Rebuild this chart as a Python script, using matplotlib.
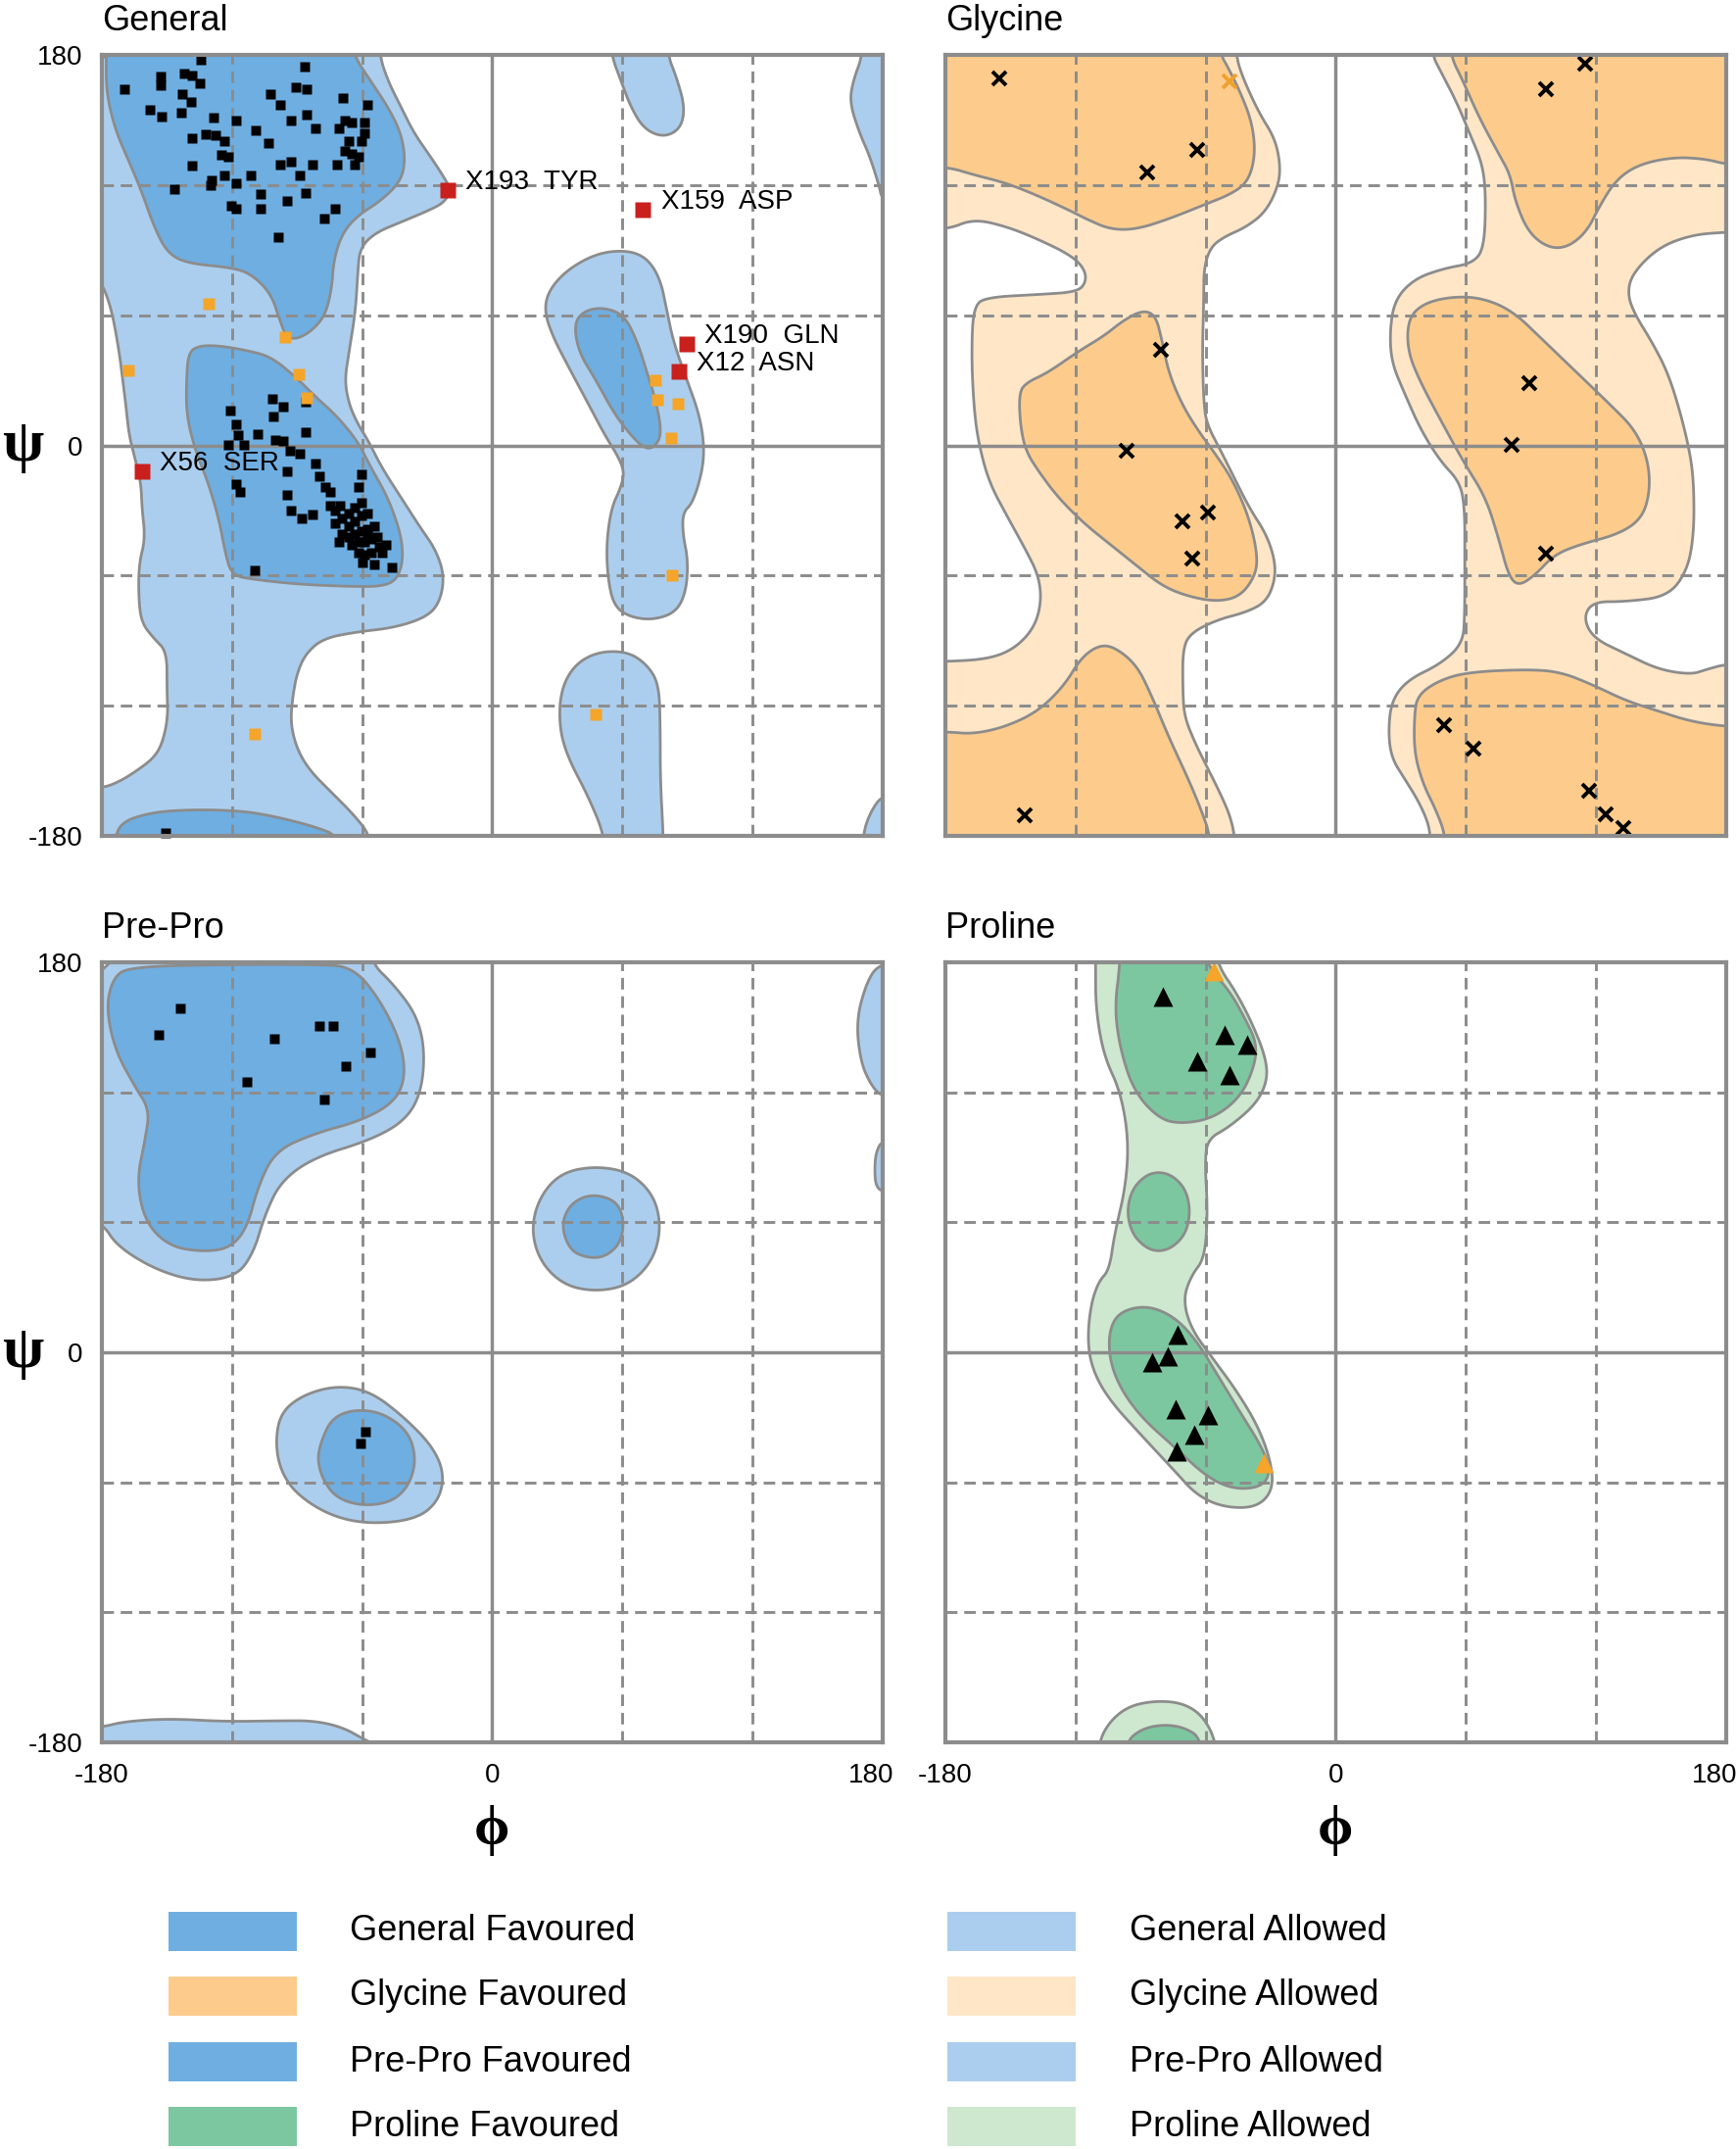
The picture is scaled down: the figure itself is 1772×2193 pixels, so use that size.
import numpy as np
import matplotlib
matplotlib.use("Agg")
import matplotlib.pyplot as plt
from matplotlib.patches import Polygon, Rectangle
from matplotlib.transforms import ScaledTranslation

plt.rcParams['font.family'] = ['Liberation Sans', 'DejaVu Sans']
plt.rcParams['lines.scale_dashes'] = False
plt.rcParams['axes.unicode_minus'] = False

# ---------------- colours ----------------
GEN_FAV = '#6FAEE1'
GEN_ALW = '#ABCEEE'
GLY_FAV = '#FDCC8C'
GLY_ALW = '#FFE6C7'
PRO_FAV = '#7DC7A0'
PRO_ALW = '#CDE8CE'
LINE = '#8C8C8C'

# ---------------- region outlines (phi, psi in degrees) ----------------
GEN_ALW_MAIN = [(-195, 195), (-52, 195), (-52, 180), (-48, 168), (-42, 156), (-36, 144), (-29, 134), (-23, 125),
                (-19, 118), (-22, 112), (-30, 108), (-42, 103), (-54, 98), (-61, 91), (-62, 79), (-63, 62),
                (-66, 43), (-68, 30), (-66, 19), (-62, 10), (-57, 2), (-51, -10), (-42, -24), (-33, -38),
                (-26, -48), (-22, -60), (-24, -72), (-30, -79), (-45, -84), (-63, -86), (-78, -89), (-86, -96),
                (-90, -105), (-92, -116), (-93, -128), (-90, -140), (-84, -150), (-74, -160), (-64, -170),
                (-56, -180), (-55, -195), (-195, -195), (-195, -158), (-180, -158), (-172, -155), (-164, -150),
                (-156, -144), (-152, -137), (-149.5, -125), (-150, -113), (-150, -95), (-156, -89),
                (-161.5, -82), (-163, -72), (-163, -55), (-160, -43), (-161.5, -29), (-162, -17), (-165, -5),
                (-167.5, 5), (-169, 19), (-170.5, 31), (-172, 43), (-175, 60), (-178, 70), (-182, 78),
                (-195, 80)]
GEN_ALW_EDGE_TOP = [(190, 195), (171, 195), (171, 180), (166.5, 168), (165, 158), (169.5, 144), (174, 134),
                    (178.5, 120), (180, 113), (190, 111)]
GEN_ALW_EDGE_BOT = [(190, -161), (180, -161), (174, -170), (171, -180), (171, -195), (190, -195)]
GEN_ALW_TOPMID = [(54, 195), (55, 180), (59.5, 168), (64, 156), (70, 146), (79, 142), (87, 146), (89, 156),
                  (85, 170), (81, 180), (81, 195)]
GEN_ALW_BOTMID = [(52, -195), (52, -180), (44, -161), (35, -144), (31, -130), (31.6, -113), (38, -101),
                  (49, -95), (62.5, -95), (71.5, -101), (77, -110), (77.6, -130), (77.6, -154), (79, -180),
                  (79, -195)]
GEN_ALW_ALPHAL = [(24, 62.4), (26.4, 72), (35.4, 81.6), (49, 88.8), (62.5, 90), (71.5, 86.4), (77.6, 76.8),
                  (80.6, 62.4), (83.6, 48), (89.6, 31), (95.6, 14.4), (97.9, 0), (97, -12), (92.6, -26.4),
                  (88, -31), (88, -40.8), (90.4, -52.8), (89.6, -67), (85, -76.8), (74.5, -80.4), (64, -79.2),
                  (56.5, -74.4), (53.5, -62.4), (52.7, -45.6), (55, -28.8), (59.5, -19.2), (61, -12),
                  (58, -4.8), (52, 4.8), (44.4, 19.2), (35.4, 36), (27.9, 50.4)]
GEN_FAV_BETA = [(-178, 195), (-178, 180), (-178, 163), (-174, 146), (-168, 132), (-162, 118), (-156, 101),
                (-150, 89), (-141, 84), (-120, 82), (-111, 79), (-102, 70), (-98, 58), (-95, 50), (-90, 49),
                (-83, 53), (-77, 60), (-74, 72), (-73, 86), (-69, 98), (-62, 106), (-51, 113), (-42, 122),
                (-40, 132), (-42, 144), (-48, 156), (-56, 168), (-64, 180), (-66, 195)]
GEN_FAV_BETA_WRAP = [(-176, -195), (-174, -180), (-170, -173), (-156, -169), (-141, -168), (-126, -168),
                     (-111, -169), (-96, -172), (-81, -176), (-71, -180), (-70, -195)]
GEN_FAV_ALPHA = [(-140, 43), (-141, 31), (-141, 14), (-137, -2), (-131, -17), (-126, -34), (-123, -50),
                 (-120, -60), (-108, -62), (-89, -64), (-66, -65), (-51, -65), (-44, -62), (-41, -53),
                 (-42, -41), (-48, -24), (-56, -10), (-62, 2), (-72, 14), (-81, 22), (-90, 31), (-102, 41),
                 (-114, 44), (-126, 46), (-135, 46)]
GEN_FAV_ALPHAL = [(37.7, 56.4), (43, 62.4), (52, 63.6), (61, 60), (67, 48), (71.5, 33.6), (76, 19.2),
                  (78.3, 4.8), (74.5, -1.2), (70, -1.2), (64, 4.8), (56.5, 14.4), (47.4, 31), (40, 43)]

GLY_ALW_LEFT = [(-195, 195), (-46, 195), (-46, 180), (-43, 170), (-35.5, 153.6), (-28, 141.6), (-25.5, 129.6),
                (-26.3, 120), (-32, 108), (-41, 100.8), (-51.8, 96), (-57.8, 91.2), (-60.8, 81.6), (-60.8, 67),
                (-61.5, 43), (-60.8, 19), (-59.3, 9.6), (-53, -2.4), (-47, -14.4), (-39.8, -28.8), (-32, -40.8),
                (-28, -52.8), (-28, -62.4), (-32, -72), (-41, -76.8), (-54.8, -80.4), (-66.8, -86.4),
                (-70.5, -93.6), (-70.5, -112.8), (-69.8, -124.8), (-65, -136.8), (-59, -148.8), (-53, -160.8),
                (-48.8, -170.4), (-46.5, -180), (-46, -195), (-195, -195)]
GLY_WHITE_LEFT = [(-195, 99.6), (-179, 99.6), (-167, 104.4), (-152, 101), (-137, 95), (-122, 87.6), (-116, 81.6),
                  (-115, 75.6), (-119, 70.8), (-137, 69.6), (-160, 68.4), (-167, 64.8), (-168, 43), (-167, 19.2),
                  (-165, 2.4), (-160, -16.8), (-151, -33.6), (-143, -48), (-137, -60), (-135.7, -72),
                  (-139, -84), (-148, -93.6), (-160, -98.4), (-179, -99.6), (-195, -99.6)]
GLY_ALW_RIGHT = [(195, 195), (44.6, 195), (44.6, 180), (48.3, 172.8), (55.8, 158.4), (61.8, 144), (67.8, 129.6),
                 (69.3, 115.2), (68.6, 91.2), (63.3, 84), (49.8, 81.6), (36.3, 76.8), (27.3, 67.2), (25, 52.8),
                 (25.8, 38.4), (31.8, 24), (39.3, 7.2), (48.3, -7.2), (57.3, -16.8), (59.6, -28.8),
                 (59.6, -52.8), (59.6, -76.8), (58.8, -91.2), (48.3, -100.8), (33.3, -108), (25.8, -117.6),
                 (24.3, -132), (25.8, -144), (31.8, -153.6), (37.8, -163.2), (42.3, -172.8), (43.8, -180),
                 (43.8, -195), (195, -195)]
GLY_WHITE_RIGHT = [(195, 98.4), (180, 98.4), (163.8, 97), (148.8, 91.2), (136.8, 79.2), (134.6, 69.6),
                   (138.3, 60), (145.8, 48), (153.3, 33.6), (159.3, 14.4), (163.8, -4.8), (165.3, -19.2),
                   (165.3, -40.8), (162.3, -57.6), (153.3, -69.6), (133.8, -72), (118.8, -72), (114.3, -79.2),
                   (118.8, -88.8), (133.8, -96), (148.8, -103.2), (163.8, -105.6), (171.3, -103.2),
                   (180, -100.8), (195, -100.8)]
GLY_FAV_TOPL = [(-195, 195), (-53, 195), (-53, 180), (-50, 175), (-44, 163), (-38.5, 148.8), (-37, 134.4),
                (-40, 122.4), (-47, 116.4), (-62, 110.4), (-77, 104.4), (-92, 99.6), (-104, 99.6), (-115, 104.4),
                (-122, 108), (-137, 115), (-152, 121), (-167, 124.8), (-179, 128.4), (-195, 128.4)]
GLY_FAV_BOTL = [(-195, -132), (-179, -132), (-167, -133), (-152, -129.6), (-137, -122.4), (-125, -110.4),
                (-117.8, -98.4), (-110, -92.4), (-102.8, -92.4), (-92, -100.8), (-85, -115), (-77, -134.4),
                (-68, -153.6), (-62, -168), (-57.8, -180), (-57.8, -195), (-195, -195)]
GLY_FAV_MIDL = [(-146, 24), (-143, 28.8), (-132.7, 33.6), (-119, 43.2), (-107, 50.4), (-98, 57.6), (-89, 62.4),
                (-83, 60), (-80, 48), (-77, 33.6), (-71, 19.2), (-63.7, 7.2), (-54.8, -4.8), (-47, -16.8),
                (-39.8, -33.6), (-36, -50.4), (-37, -60), (-44, -69.6), (-54.8, -72), (-68, -69.6), (-80, -64.8),
                (-92, -55.2), (-104, -45.6), (-116, -36), (-128, -24), (-137, -12), (-143, -2.4), (-145.5, 9.6)]
GLY_FAV_TOPR = [(52.8, 195), (52.8, 180), (58.8, 168), (66.3, 151), (75.3, 134.4), (80.6, 124.8), (82.8, 112.8),
                (88.8, 98.4), (97.8, 91.2), (106.8, 91.2), (115.8, 98.4), (121.8, 110.4), (129.3, 122.4),
                (139.8, 129.6), (156.3, 133), (171.3, 132), (180, 129.6), (195, 129.6), (195, 195)]
GLY_FAV_BOTR = [(50.8, -195), (50.8, -180), (46.3, -168), (40.3, -156), (36.3, -141.6), (36.3, -124.8),
                (37.8, -115), (48.3, -108), (61.8, -104.4), (88.8, -103.2), (103.8, -104.4), (118.8, -110.4),
                (133.8, -117.6), (148.8, -122.4), (163.8, -127.2), (180, -129.6), (195, -129.6), (195, -195)]
GLY_FAV_MIDR = [(33.3, 57.6), (39.3, 64.8), (51.3, 68.4), (66.3, 68.4), (81.3, 62.4), (96.3, 48), (111.3, 33.6),
                (126.3, 19.2), (138.3, 7.2), (144.3, -7.2), (145, -21.6), (141.3, -33.6), (130.8, -40.8),
                (112.8, -45.6), (100.8, -50.4), (91.8, -60), (84.3, -64.8), (79.8, -60), (75.3, -43.2),
                (69.3, -24), (58.8, -7.2), (48.3, 12), (39.3, 28.8), (33.3, 43.2)]

PRE_ALW_BETA = [(-195, 195), (-56, 195), (-56, 180), (-45.6, 170), (-35, 156), (-31, 140), (-32.6, 120),
                (-40, 107), (-56, 98), (-82, 90), (-97.5, 79), (-105, 63), (-110, 46), (-118, 35), (-136, 32.6),
                (-155, 38), (-173, 49), (-180, 60), (-195, 64)]
PRE_ALW_WRAP = [(-195, -195), (-195, -173), (-180, -173), (-170, -170.4), (-149, -169), (-123, -170.4),
                (-97.5, -170), (-82, -170), (-69, -173), (-59, -178.6), (-56, -180), (-55, -195)]
PRE_ALW_EDGE1 = [(190, 180), (178, 179), (172.5, 170), (168, 153), (170, 134), (175, 123), (180, 118), (190, 117)]
PRE_ALW_EDGE2 = [(190, 99), (180, 98), (177, 92), (176.5, 84), (177, 77), (180, 74), (190, 74)]
PRE_ALW_ALPHA = [(-100, -41.4), (-97.5, -27.7), (-87, -19.5), (-71.5, -15.3), (-56, -18), (-40, -30.4),
                 (-27, -44), (-22, -56.5), (-24.8, -68.8), (-35, -77), (-56, -79.3), (-74, -75.7),
                 (-89.7, -66), (-97.5, -55)]
PRE_ALW_ALPHAL = [(18, 57), (22, 72), (32, 83), (48, 86), (64, 83), (75, 72), (78, 57), (74, 42), (63, 31),
                  (48, 28), (33, 31), (22, 42)]
PRE_FAV_BETA = [(-178, 159), (-175, 172.6), (-167.5, 178), (-120, 179), (-82, 179), (-64, 178), (-51, 161.6),
                (-41.7, 142), (-40, 126), (-45.6, 115), (-61, 106.7), (-82, 101), (-100, 93), (-108, 76.6),
                (-113, 57.4), (-121, 48), (-134, 46.4), (-149, 49), (-160, 60), (-164, 79), (-160, 98.5),
                (-158, 112), (-165, 123), (-174, 139.6)]
PRE_FAV_ALPHA = [(-79, -41.4), (-74, -30.4), (-63.7, -26.3), (-51, -27.7), (-39, -36), (-35, -48.3),
                 (-37.8, -60.6), (-45.6, -68.8), (-59, -71), (-71.5, -67.5), (-78, -59), (-80.6, -49.6)]
PRE_FAV_ALPHAL = [(32, 58), (35, 67), (42, 72), (50, 72.5), (58, 69), (61, 60), (59, 50), (52, 44), (44, 43.6),
                  (36, 47)]

PRO_ALW_MAIN = [(-111, 195), (-110.7, 180), (-110.7, 159), (-107, 137), (-99.3, 120.5), (-95.5, 98.5),
                (-96.8, 76.6), (-102, 54.6), (-104.4, 38), (-109.4, 32.6), (-113, 21.7), (-114.5, 5),
                (-112, -8.5), (-104.4, -22), (-89.3, -38.6), (-74, -55), (-64, -66), (-51.4, -71.6),
                (-36.3, -71.6), (-28.7, -63.3), (-30, -49.6), (-36.3, -33), (-46.4, -16.7), (-56.5, -3),
                (-66.6, 10.7), (-70.4, 24.4), (-66.6, 35.4), (-60.3, 43.6), (-59, 65.6), (-60.3, 87.5),
                (-59, 98.5), (-49, 104), (-36.3, 115), (-31.3, 126), (-32.5, 137), (-39, 153), (-46.4, 167),
                (-54, 178), (-58, 195)]
PRO_ALW_WRAP = [(-109.4, -195), (-109.4, -180), (-104, -170), (-95, -163), (-82, -160.7), (-70, -162),
                (-61, -168), (-55, -180), (-55, -195)]
PRO_FAV_BETA = [(-100, 195), (-99.3, 180), (-102, 159), (-99.3, 139.6), (-93, 120.4), (-81.7, 108),
                (-71.6, 105.4), (-56.5, 108), (-44, 117.7), (-37.6, 131.4), (-36.3, 142.4), (-41.4, 153.4),
                (-49, 167), (-59, 178), (-63, 195)]
PRO_FAV_MID = [(-96.3, 65), (-94, 75), (-88, 81.5), (-81.7, 83.4), (-75, 81.5), (-69, 75), (-67, 65), (-69, 55),
               (-75, 48.5), (-81.7, 46.4), (-88, 48.5), (-94, 55)]
PRO_FAV_ALPHA = [(-104.4, 10.7), (-99.3, 19), (-86.7, 21.7), (-74, 16.2), (-64, 5.2), (-54, -11.2), (-44, -27.7),
                 (-33.8, -44), (-30, -55), (-33.8, -62), (-46.4, -63.3), (-59, -57.9), (-74, -44),
                 (-89.3, -30.4), (-99.3, -16.7), (-104.4, -3)]
PRO_FAV_WRAP = [(-96.8, -195), (-96.8, -180), (-90, -174), (-80, -171.7), (-70, -173), (-62, -178),
                (-61.5, -195)]

# ---------------- residues ----------------
GEN_FAVOURED_PTS = [
    (-134.5, 178), (-86.6, 174.7), (-169.8, 164.4), (-153, 170), (-153, 166), (-142, 171.6), (-138.3, 170.4),
    (-134.6, 166.8), (-142.8, 162), (-139, 158.4), (-158, 154.8), (-152.6, 151.7), (-143.6, 153.6),
    (-128.6, 151.2), (-118, 150), (-109, 145.2), (-102.3, 162), (-97.8, 157.2), (-90.3, 165), (-85.5, 164.4),
    (-92.6, 150), (-85.5, 152.4), (-81.3, 146.4), (-68.6, 160.3), (-57.3, 157.2), (-70.8, 146.4), (-67.8, 150),
    (-64.8, 148.8), (-58.8, 148.8), (-138.3, 141.6), (-132.3, 143.5), (-127.8, 142.8), (-123.3, 140.4),
    (-124.8, 134), (-121.8, 133.2), (-103, 139.2), (-66.3, 140.4), (-58.8, 144), (-60.3, 140.4), (-67.8, 135.6),
    (-64.8, 134.4), (-61.8, 133.2), (-138.3, 129.1), (-129.3, 122.4), (-123.3, 124.3), (-118, 120.7),
    (-111.3, 124.3), (-97.8, 129.6), (-92.6, 130.8), (-88.8, 124.3), (-82.8, 129.6), (-71.6, 129.6),
    (-63.3, 129.6), (-146.6, 118.3), (-130, 120), (-120.3, 110.4), (-118, 109.2), (-106.8, 116),
    (-106.8, 109.2), (-94.8, 112.8), (-85.8, 116.4), (-72.3, 109.2), (-77.6, 104.4), (-98.6, 96),
    (-150.8, -178.8),
    (-120.6, 16.3), (-118, 9.6), (-117.3, 4.8), (-121.8, 0.5), (-114.3, 0.5), (-108.3, 5.3), (-101.5, 21.6),
    (-96.3, 18), (-100.8, 13.2), (-86.1, 20), (-86.1, 6), (-100, 2.4), (-96.3, 2), (-93.3, -2.4), (-88.8, -4),
    (-94.8, -12), (-118, -18), (-116.5, -21.6), (-94.8, -22.8), (-92.6, -30), (-88, -33.6), (-82.8, -31.7),
    (-81.3, -8.4), (-79.8, -14.4), (-76.8, -19.2), (-74.5, -21.6), (-60.3, -13.2), (-61.8, -19.2),
    (-74.5, -27.6), (-72.3, -30), (-70, -27.6), (-72.3, -36), (-69.3, -33.6), (-66.3, -31.2), (-63.3, -28.8),
    (-60.3, -26.4), (-66.3, -37.2), (-63.3, -34.8), (-60.3, -32.4), (-57.3, -31.2), (-69.3, -40.8),
    (-66.3, -42), (-63.3, -40.8), (-60.3, -39.6), (-57.3, -38.4), (-54.3, -37.2), (-64.8, -45.6),
    (-61.8, -44.4), (-58.8, -44.4), (-55.8, -43.2), (-52.8, -42), (-61.8, -49.2), (-58.8, -50.4),
    (-55.8, -49.2), (-52, -46.8), (-49, -45.6), (-59.6, -54), (-54.3, -54.7), (-46, -56.4), (-57.3, -40.8),
    (-70.8, -44.4), (-50.6, -49.2), (-109.5, -57.6)]
GEN_ALLOWED_PTS = [(-130.8, 65.3), (-95.6, 50), (-167.6, 34.8), (-89.1, 32.9), (-85.5, 22), (-109.4, -133.2),
                   (75.3, 30), (76.4, 20.9), (85.8, 19.2), (82.5, 3.6), (83.1, -60), (47.7, -123.8)]
GEN_OUTLIER_LABELS = ['X193  TYR', 'X56  SER', 'X159  ASP', 'X190  GLN', 'X12  ASN']
GEN_OUTLIER_PHI = [-20.6, -161.6, 69.7, 89.6, 86.1]
GEN_OUTLIER_PSI = [117.6, -12, 108.7, 46.8, 34]

GLY_FAVOURED_PTS = [(-155.3, 169.2), (-63.8, 136.1), (-87, 126), (-80.7, 43.9), (-96.3, -2.4), (-70.5, -34.8),
                    (-58.8, -30.7), (-66.3, -52.3), (-143.6, -170.4), (115, 176), (97, 164.4), (89.5, 28.8),
                    (81.3, 0.5), (97, -49.7), (50.1, -129.1), (63.6, -139.7), (117, -159.1), (124.8, -169.9),
                    (132.7, -176.4)]
GLY_ALLOWED_PTS = [(-48.8, 168)]

PRE_FAVOURED_PTS = [(-143.9, 158.6), (-153.8, 146.5), (-100.6, 144.9), (-79.6, 150.6), (-73.3, 150.6),
                    (-56.2, 138.3), (-67.4, 132), (-113, 124.9), (-77.2, 116.9), (-58.3, -36.7), (-60.6, -42.2)]

PRO_FAVOURED_PTS = [(-79.7, 164.4), (-51.4, 146.5), (-40.8, 142.1), (-63.8, 134.2), (-48.9, 128.1), (-72.9, 8),
                    (-77.2, -1.6), (-84.7, -4.4), (-73.9, -26.3), (-59, -29.1), (-65.3, -38.1), (-73.4, -45.5)]
PRO_ALLOWED_PTS = [(-56, 175.9), (-33, -51)]

LEGEND_LEFT = ['General Favoured', 'Glycine Favoured', 'Pre-Pro Favoured', 'Proline Favoured']
LEGEND_RIGHT = ['General Allowed', 'Glycine Allowed', 'Pre-Pro Allowed', 'Proline Allowed']
LEGEND_LEFT_COLORS = [GEN_FAV, GLY_FAV, GEN_FAV, PRO_FAV]
LEGEND_RIGHT_COLORS = [GEN_ALW, GLY_ALW, GEN_ALW, PRO_ALW]

SERIF = ['Liberation Serif', 'DejaVu Serif']


def chaikin(pts, n=3):
    p = np.asarray(pts, float)
    for _ in range(n):
        q = np.roll(p, -1, axis=0)
        a = 0.75 * p + 0.25 * q
        b = 0.25 * p + 0.75 * q
        p = np.empty((2 * len(a), 2))
        p[0::2] = a
        p[1::2] = b
    return p


def add_regions(ax, regions, color, z):
    for pts in regions:
        ax.add_patch(Polygon(chaikin(pts), closed=True, facecolor=color, edgecolor=LINE, lw=2.0, zorder=z))


def setup(ax, title, left, bottom):
    ax.set_xlim(-180, 180)
    ax.set_ylim(-180, 180)
    for v in (-120, -60, 60, 120):
        ax.axvline(v, color=LINE, lw=2.1, dashes=(8.5, 5), zorder=2)
        ax.axhline(v, color=LINE, lw=2.1, dashes=(8.5, 5), zorder=2)
    ax.axvline(0, color=LINE, lw=2.5, zorder=2)
    ax.axhline(0, color=LINE, lw=2.5, zorder=2)
    for s in ax.spines.values():
        s.set_color(LINE)
        s.set_linewidth(3.0)
        s.set_zorder(6)
    ax.set_title(title, loc='left', fontsize=26, pad=18)
    ax.tick_params(length=0, labelsize=20)
    if left:
        ax.set_yticks([-180, 0, 180])
        ax.set_yticklabels(['-180', '0', '180'])
        ax.tick_params(axis='y', pad=14)
        ax.text(-0.102, 0.5, 'ψ', transform=ax.transAxes, fontsize=44, fontweight='bold',
                family=SERIF, ha='center', va='center')
    else:
        ax.set_yticks([])
    if bottom:
        ax.set_xticks([-180, 0, 180])
        ax.set_xticklabels(['-180', '0', '180'])
        ax.tick_params(axis='x', pad=15)
        lab = ax.get_xticklabels()[-1]
        lab.set_transform(lab.get_transform() + ScaledTranslation(-11 / 100, 0, fig.dpi_scale_trans))
        ax.text(0.5, -0.113, 'ϕ', transform=ax.transAxes, fontsize=42, fontweight='bold',
                family=SERIF, ha='center', va='center')
    else:
        ax.set_xticks([])


def plot_pts(ax, pts, marker, color, ms, mew=0, z=4):
    a = np.asarray(pts, float)
    if marker == 'x':
        ax.plot(a[:, 0], a[:, 1], ls='none', marker=marker, ms=ms, color=color, mew=mew, zorder=z, clip_on=False)
    else:
        ax.plot(a[:, 0], a[:, 1], ls='none', marker=marker, ms=ms, mfc=color, mec='none', zorder=z, clip_on=False)


fig = plt.figure(figsize=(17.72, 21.93), dpi=100)
W = 0.4495
ax_gen = fig.add_axes([0.0587, 0.6110, W, 0.3634])
ax_gly = fig.add_axes([0.5446, 0.6110, W, 0.3634])
ax_pre = fig.add_axes([0.0587, 0.1892, W, 0.3630])
ax_pro = fig.add_axes([0.5446, 0.1892, W, 0.3630])

# General
add_regions(ax_gen, [GEN_ALW_MAIN, GEN_ALW_EDGE_TOP, GEN_ALW_EDGE_BOT, GEN_ALW_TOPMID, GEN_ALW_BOTMID,
                     GEN_ALW_ALPHAL], GEN_ALW, 1)
add_regions(ax_gen, [GEN_FAV_BETA, GEN_FAV_BETA_WRAP, GEN_FAV_ALPHA, GEN_FAV_ALPHAL], GEN_FAV, 1.2)
setup(ax_gen, 'General', True, False)
plot_pts(ax_gen, GEN_FAVOURED_PTS, 's', 'black', 7)
plot_pts(ax_gen, GEN_ALLOWED_PTS, 's', '#F4A52A', 9)
for lab, ph, ps in zip(GEN_OUTLIER_LABELS, GEN_OUTLIER_PHI, GEN_OUTLIER_PSI):
    ax_gen.plot([ph], [ps], ls='none', marker='s', ms=11, mfc='#C9201E', mec='none', zorder=5)
    ax_gen.annotate(lab, (ph, ps), xytext=(13, 6), textcoords='offset points', fontsize=20,
                    ha='left', va='center', zorder=7)

# Glycine
add_regions(ax_gly, [GLY_ALW_LEFT, GLY_ALW_RIGHT], GLY_ALW, 1)
add_regions(ax_gly, [GLY_WHITE_LEFT, GLY_WHITE_RIGHT], 'white', 1.1)
add_regions(ax_gly, [GLY_FAV_TOPL, GLY_FAV_BOTL, GLY_FAV_MIDL, GLY_FAV_TOPR, GLY_FAV_BOTR, GLY_FAV_MIDR],
            GLY_FAV, 1.2)
setup(ax_gly, 'Glycine', False, False)
plot_pts(ax_gly, GLY_FAVOURED_PTS, 'x', 'black', 10, mew=2.8)
plot_pts(ax_gly, GLY_ALLOWED_PTS, 'x', '#F0A030', 10, mew=2.8)

# Pre-Pro
add_regions(ax_pre, [PRE_ALW_BETA, PRE_ALW_WRAP, PRE_ALW_EDGE1, PRE_ALW_EDGE2, PRE_ALW_ALPHA, PRE_ALW_ALPHAL],
            GEN_ALW, 1)
add_regions(ax_pre, [PRE_FAV_BETA, PRE_FAV_ALPHA, PRE_FAV_ALPHAL], GEN_FAV, 1.2)
setup(ax_pre, 'Pre-Pro', True, True)
plot_pts(ax_pre, PRE_FAVOURED_PTS, 's', 'black', 7)

# Proline
add_regions(ax_pro, [PRO_ALW_MAIN, PRO_ALW_WRAP], PRO_ALW, 1)
add_regions(ax_pro, [PRO_FAV_BETA, PRO_FAV_MID, PRO_FAV_ALPHA, PRO_FAV_WRAP], PRO_FAV, 1.2)
setup(ax_pro, 'Proline', False, True)
plot_pts(ax_pro, PRO_FAVOURED_PTS, '^', 'black', 14)
plot_pts(ax_pro, PRO_ALLOWED_PTS, '^', '#F4A52A', 14)

# Legend (figure coordinates)
FW, FH = 1772.0, 2193.0
row_y = [1971, 2037, 2104, 2170]
for i, y in enumerate(row_y):
    for sx, tx, labels, cols in ((172, 357, LEGEND_LEFT, LEGEND_LEFT_COLORS),
                                 (967, 1153, LEGEND_RIGHT, LEGEND_RIGHT_COLORS)):
        fig.patches.append(Rectangle((sx / FW, 1 - (y + 20) / FH), 131 / FW, 40 / FH,
                                     transform=fig.transFigure, facecolor=cols[i], edgecolor='none'))
        fig.text(tx / FW, 1 - y / FH, labels[i], fontsize=26, ha='left', va='center')

fig.savefig('out.png', dpi=100)
